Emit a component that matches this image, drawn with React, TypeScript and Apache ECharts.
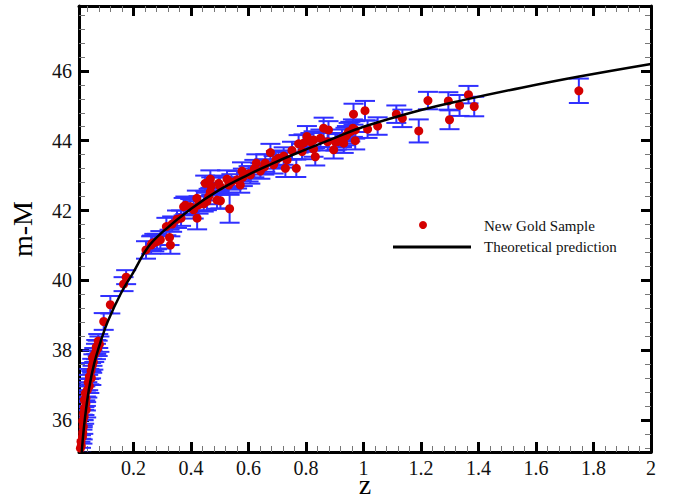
import React, { useEffect, useRef } from "react";
import * as echarts from "echarts";

// ---- Data ----
const zData = [
  0.015, 0.018, 0.017, 0.022, 0.023, 0.025, 0.023, 0.028, 0.026, 0.035,
  0.029, 0.034, 0.029, 0.034, 0.032, 0.039, 0.046, 0.042, 0.053, 0.046,
  0.052, 0.056, 0.060, 0.057, 0.063, 0.069, 0.075, 0.070, 0.081, 0.077,
  0.096, 0.119, 0.165, 0.174,
  0.243, 0.261, 0.264, 0.272, 0.281, 0.293, 0.328, 0.325, 0.314, 0.334,
  0.351, 0.365, 0.421, 0.374, 0.397, 0.409, 0.426, 0.444, 0.455, 0.461,
  0.490, 0.502, 0.534, 0.467, 0.449, 0.467, 0.496, 0.525, 0.531, 0.560,
  0.577, 0.571, 0.606, 0.627, 0.641, 0.658, 0.687, 0.676, 0.704, 0.722,
  0.734, 0.728, 0.766, 0.751, 0.774, 0.786, 0.791, 0.803, 0.815, 0.826,
  0.826, 0.832, 0.850, 0.861, 0.878, 0.875, 0.896, 0.902, 0.908, 0.925,
  0.931, 0.937, 0.942, 0.948, 0.954, 0.963, 0.971, 0.971, 0.965, 1.005,
  1.014, 1.049, 1.114, 1.135, 1.192, 1.224, 1.295, 1.299, 1.334, 1.365,
  1.385, 1.749,
  0.500, 0.540, 0.580, 0.600, 0.620, 0.655, 0.695, 0.380, 0.420, 0.470,
];
const muData = [
  35.19, 35.26, 35.38, 35.52, 35.64, 35.80, 35.97, 36.09, 36.19, 36.29,
  36.34, 36.47, 36.57, 36.62, 36.76, 36.86, 36.97, 37.07, 37.20, 37.24,
  37.41, 37.55, 37.66, 37.77, 37.86, 37.96, 38.05, 38.09, 38.17, 38.26,
  38.82, 39.30, 39.89, 40.09,
  40.87, 41.01, 41.06, 41.08, 41.11, 41.16, 41.01, 41.23, 41.54, 41.61,
  41.75, 41.78, 41.78, 42.11, 42.11, 42.02, 42.16, 42.19, 42.26, 42.40,
  42.30, 42.28, 42.05, 42.54, 42.78, 42.90, 42.78, 42.90, 42.73, 42.88,
  43.13, 42.73, 43.02, 43.36, 43.13, 43.36, 43.31, 43.66, 43.50, 43.56,
  43.45, 43.21, 43.21, 43.72, 43.91, 43.69, 43.93, 44.12, 43.97, 44.02,
  43.76, 43.54, 44.07, 44.36, 44.31, 43.97, 43.74, 43.97, 43.97, 44.07,
  43.93, 44.12, 44.17, 44.26, 44.26, 44.36, 44.31, 44.00, 44.76, 44.86,
  44.33, 44.42, 44.76, 44.64, 44.28, 45.15, 45.14, 44.60, 45.01, 45.32,
  44.98, 45.43,
  42.70, 42.82, 42.95, 43.05, 43.20, 43.25, 43.45, 42.15, 42.35, 42.70,
];
const muErr = [
  0.18, 0.20, 0.18, 0.20, 0.20, 0.20, 0.18, 0.20, 0.20, 0.22,
  0.20, 0.20, 0.20, 0.22, 0.20, 0.22, 0.20, 0.22, 0.20, 0.22,
  0.22, 0.20, 0.22, 0.22, 0.20, 0.22, 0.22, 0.20, 0.22, 0.20,
  0.24, 0.25, 0.20, 0.20,
  0.25, 0.25, 0.22, 0.25, 0.22, 0.25, 0.25, 0.22, 0.25, 0.22,
  0.25, 0.22, 0.32, 0.25, 0.22, 0.25, 0.25, 0.22, 0.25, 0.22,
  0.25, 0.22, 0.40, 0.25, 0.22, 0.25, 0.22, 0.25, 0.22, 0.25,
  0.25, 0.22, 0.25, 0.25, 0.22, 0.25, 0.25, 0.25, 0.22, 0.25,
  0.22, 0.25, 0.25, 0.25, 0.25, 0.22, 0.25, 0.30, 0.25, 0.25,
  0.22, 0.25, 0.25, 0.30, 0.25, 0.25, 0.25, 0.25, 0.22, 0.25,
  0.28, 0.25, 0.25, 0.25, 0.28, 0.25, 0.25, 0.25, 0.30, 0.28,
  0.25, 0.25, 0.25, 0.25, 0.33, 0.25, 0.25, 0.27, 0.30, 0.25,
  0.28, 0.35,
  0.25, 0.22, 0.25, 0.22, 0.25, 0.22, 0.25, 0.25, 0.22, 0.25,
];

const theoryZ = [
  0.015, 0.02, 0.03, 0.045, 0.063, 0.087, 0.11, 0.156, 0.197, 0.25,
  0.3, 0.4, 0.5, 0.6, 0.7, 0.8, 0.9, 1.0, 1.2, 1.35, 1.55, 1.75, 2.0,
];
const theoryMu = [
  34.5, 35.13, 36.0, 36.9, 37.62, 38.29, 38.82, 39.63, 40.2, 40.95,
  41.38, 42.05, 42.6, 43.03, 43.41, 43.75, 44.08, 44.4, 44.88, 45.17,
  45.52, 45.84, 46.2,
];

const xMajorTicks = [0.2, 0.4, 0.6, 0.8, 1, 1.2, 1.4, 1.6, 1.8, 2];
const yMajorTicks = [36, 38, 40, 42, 44, 46];
const X_MIN = 0.01;
const X_MAX = 2;
const Y_MIN = 35.08;
const Y_MAX = 47.86;

const xMinorTicks: number[] = [];
for (let k = 1; k < 50; k++) {
  if (k % 5 !== 0) xMinorTicks.push(Math.round(k * 4) / 100);
}
const yMinorTicks: number[] = [];
for (let k = 88; k <= 119; k++) {
  if (k % 5 !== 0) yMinorTicks.push(Math.round(k * 4) / 10);
}

const SERIF = "'Liberation Serif', 'Times New Roman', serif";
const RED = "#d40000";
const BLUE = "#3030ff";

export default function App() {
  const ref = useRef<HTMLDivElement>(null);

  useEffect(() => {
    if (!ref.current) return;
    const chart = echarts.init(ref.current, undefined, { renderer: "svg" });

    const baseX = {
      type: "value" as const,
      min: X_MIN,
      max: X_MAX,
      gridIndex: 0,
      splitLine: { show: false },
    };
    const baseY = {
      type: "value" as const,
      min: Y_MIN,
      max: Y_MAX,
      gridIndex: 0,
      splitLine: { show: false },
    };
    const mainLine = { show: true, onZero: false, lineStyle: { color: "#000", width: 3 } };
    const majorTickX = {
      show: true, inside: true, length: 10, customValues: xMajorTicks,
      lineStyle: { color: "#000", width: 3 },
    };
    const minorTickX = {
      show: true, inside: true, length: 6, customValues: xMinorTicks,
      lineStyle: { color: "#777", width: 1 },
    };
    const majorTickY = {
      show: true, inside: true, length: 10, customValues: yMajorTicks,
      lineStyle: { color: "#000", width: 3 },
    };
    const minorTickY = {
      show: true, inside: true, length: 6, customValues: yMinorTicks,
      lineStyle: { color: "#777", width: 1 },
    };
    const noLine = { show: false, onZero: false };

    const option: any = {
      animation: false,
      backgroundColor: "#fff",
      grid: {
        left: 79, right: 25, top: 6, bottom: 43,
        containLabel: false, outerBoundsMode: "none",
      },
      xAxis: [
        {
          ...baseX, position: "bottom", axisLine: mainLine, axisTick: majorTickX,
          axisLabel: {
            show: true, customValues: xMajorTicks, margin: 6,
            fontFamily: SERIF, fontSize: 20, color: "#111",
          },
          name: "z", nameLocation: "middle", nameGap: 22, nameMoveOverlap: false,
          nameTextStyle: { fontFamily: SERIF, fontSize: 28, lineHeight: 20, color: "#000" },
        },
        { ...baseX, position: "bottom", axisLine: noLine, axisTick: minorTickX, axisLabel: { show: false } },
        { ...baseX, position: "top", axisLine: mainLine, axisTick: majorTickX, axisLabel: { show: false } },
        { ...baseX, position: "top", axisLine: noLine, axisTick: minorTickX, axisLabel: { show: false } },
      ],
      yAxis: [
        {
          ...baseY, position: "left", axisLine: mainLine, axisTick: majorTickY,
          axisLabel: {
            show: true, customValues: yMajorTicks, margin: 7,
            fontFamily: SERIF, fontSize: 20, color: "#111",
          },
          name: "m-M", nameLocation: "middle", nameGap: 43, nameRotate: 90, nameMoveOverlap: false,
          nameTextStyle: { fontFamily: SERIF, fontSize: 28, color: "#000" },
        },
        { ...baseY, position: "left", axisLine: noLine, axisTick: minorTickY, axisLabel: { show: false } },
        { ...baseY, position: "right", axisLine: mainLine, axisTick: majorTickY, axisLabel: { show: false } },
        { ...baseY, position: "right", axisLine: noLine, axisTick: minorTickY, axisLabel: { show: false } },
      ],
      series: [
        {
          type: "custom",
          name: "errors",
          xAxisIndex: 0,
          yAxisIndex: 0,
          clip: true,
          silent: true,
          encode: { x: 0, y: 1 },
          data: zData.map((z, i) => [z, muData[i], muErr[i]]),
          renderItem: (_params: any, api: any) => {
            const z = api.value(0);
            const mu = api.value(1);
            const e = api.value(2);
            const top = api.coord([z, mu + e]);
            const bot = api.coord([z, mu - e]);
            const hw = 10;
            const style = { stroke: BLUE, lineWidth: 2, fill: "none" };
            return {
              type: "group",
              children: [
                { type: "line", shape: { x1: top[0], y1: top[1], x2: bot[0], y2: bot[1] }, style },
                { type: "line", shape: { x1: top[0] - hw, y1: top[1], x2: top[0] + hw, y2: top[1] }, style },
                { type: "line", shape: { x1: bot[0] - hw, y1: bot[1], x2: bot[0] + hw, y2: bot[1] }, style },
              ],
            };
          },
        },
        {
          type: "line",
          name: "Theoretical prediction",
          xAxisIndex: 0,
          yAxisIndex: 0,
          data: theoryZ.map((z, i) => [z, theoryMu[i]]),
          smooth: 0.4,
          showSymbol: false,
          clip: true,
          lineStyle: { color: "#000", width: 2.5 },
        },
        {
          type: "scatter",
          name: "New Gold Sample",
          xAxisIndex: 0,
          yAxisIndex: 0,
          data: zData.map((z, i) => [z, muData[i]]),
          symbol: "circle",
          symbolSize: 9,
          itemStyle: { color: RED, opacity: 1 },
          clip: true,
        },
      ],
      graphic: [
        { type: "circle", shape: { cx: 423, cy: 225, r: 4 }, style: { fill: RED } },
        {
          type: "text", x: 484, y: 226,
          style: { text: "New Gold Sample", font: `15px ${SERIF}`, fill: "#111", verticalAlign: "middle" },
        },
        { type: "line", shape: { x1: 393, y1: 247, x2: 471, y2: 247 }, style: { stroke: "#000", lineWidth: 3 } },
        {
          type: "text", x: 484, y: 247,
          style: { text: "Theoretical prediction", font: `15px ${SERIF}`, fill: "#111", verticalAlign: "middle" },
        },
      ],
    };

    chart.setOption(option);
    return () => chart.dispose();
  }, []);

  return (
    <div
      ref={ref}
      style={{ position: "fixed", left: 0, top: 0, width: 676, height: 495, background: "#fff" }}
    />
  );
}
